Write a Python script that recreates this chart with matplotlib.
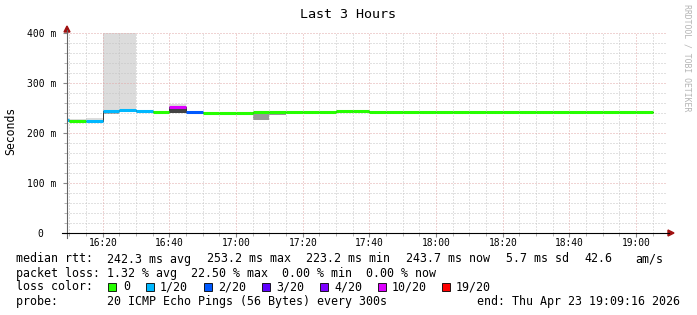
import numpy as np
import matplotlib
matplotlib.use("Agg")
import matplotlib.pyplot as plt
from matplotlib.lines import Line2D
from matplotlib.patches import Polygon, Rectangle

W, H = 697, 315
MONO = "DejaVu Sans Mono"

# 5-minute steps, start minute after 16:00
step_start = [5, 10, 15, 20, 25, 30, 35, 40, 45, 50, 55, 60, 65, 70, 75, 80, 85,
              90, 95, 100, 105, 110, 115, 120, 125, 130, 135, 140, 145, 150, 155,
              160, 165, 170, 175, 180]
median_ms = [227.0, 225.0, 223.2, 244.0, 246.5, 245.0, 243.0, 252.5, 243.0, 239.3,
             239.3, 239.3, 241.6, 241.6, 241.6, 241.6, 241.6, 244.0, 243.5, 242.0,
             242.0, 242.0, 242.0, 242.0, 242.0, 242.0, 242.0, 242.0, 242.0, 242.0,
             242.0, 242.0, 242.0, 242.0, 242.0, 242.0]
loss_pings = [1, 0, 1, 1, 1, 1, 0, 10, 2, 0, 0, 0, 0, 0, 0, 0, 0, 0, 0, 0,
              0, 0, 0, 0, 0, 0, 0, 0, 0, 0, 0, 0, 0, 0, 0, 0]

# smoke bands: (step start, low ms, high ms, shade)
smoke = [(5, 227, 231, "light"), (10, 225, 229, "light"), (15, 223, 230, "light"),
         (20, 244, 420, "light"), (20, 239, 244, "mid"), (25, 247, 420, "light"),
         (40, 253, 258, "light"), (40, 241, 251, "dark"), (45, 240, 241.5, "dark"),
         (65, 226, 240, "mid"), (70, 236, 240, "mid")]
shade_col = {"light": "#dcdcdc", "mid": "#999999", "dark": "#444444"}

loss_levels = [0, 1, 2, 3, 4, 10, 19]
loss_labels = ["0", "1/20", "2/20", "3/20", "4/20", "10/20", "19/20"]
loss_colors = ["#26ff00", "#00b8ff", "#0059ff", "#5e00ff", "#7e00ff", "#dd00ff", "#ff0000"]

xticks = [20, 40, 60, 80, 100, 120, 140, 160, 180]
xlabels = ["16:20", "16:40", "17:00", "17:20", "17:40", "18:00", "18:20", "18:40", "19:00"]
yticks = [0, 100, 200, 300, 400]
ylabels = ["0  ", "100 m", "200 m", "300 m", "400 m"]


def loss_color(n):
    c = loss_colors[0]
    for lv, col in zip(loss_levels, loss_colors):
        if n >= lv:
            c = col
    return c


fig = plt.figure(figsize=(W / 100, H / 100), dpi=100)
ax = fig.add_axes([67 / W, 82 / H, 600 / W, 200 / H])
ax.set_xlim(9.27, 189.27)
ax.set_ylim(0, 400)

for s, lo, hi, sh in smoke:
    ax.bar(s, hi - lo, bottom=lo, width=5, align="edge", color=shade_col[sh],
           linewidth=0, zorder=1)

# grid
dot = (0, (1, 2))
for m in np.arange(10, 190, 5):
    if m % 20 == 0:
        continue
    ax.axvline(m, color="#c4c4c4", lw=0.72, ls=dot, zorder=2)
for v in np.arange(20, 400, 20):
    if v % 100 == 0:
        continue
    ax.axhline(v, color="#c4c4c4", lw=0.72, ls=dot, zorder=2)
for m in xticks:
    ax.axvline(m, color="#e0a8a8", lw=0.72, ls=dot, zorder=2)
for v in [100, 200, 300, 400]:
    ax.axhline(v, color="#e0a8a8", lw=0.72, ls=dot, zorder=2)

# thin step connector, then coloured medians
edges = step_start + [step_start[-1] + 5]
ax.step(edges, median_ms + [median_ms[-1]], where="post", color="#333333", lw=0.7, zorder=3)
for s, v, n in zip(step_start, median_ms, loss_pings):
    ax.plot([s, s + 5], [v, v], color=loss_color(n), lw=2.2, solid_capstyle="butt", zorder=4)

for sp in ax.spines.values():
    sp.set_visible(False)
ax.set_xticks(xticks, xlabels, fontfamily=MONO, fontsize=6.9)
ax.set_yticks(yticks, ylabels, fontfamily=MONO, fontsize=7)
ax.set_xticks(np.arange(10, 190, 5), minor=True)
ax.set_yticks(np.arange(0, 400, 20), minor=True)
ax.tick_params(axis="x", which="major", length=3, color="#888888", pad=0.8)
ax.tick_params(axis="x", which="minor", length=2, color="#aaaaaa")
ax.tick_params(axis="y", which="major", length=3, color="#888888", pad=5)
ax.tick_params(axis="y", which="minor", length=2, color="#aaaaaa")


def fx(x):
    return x / W


def fy(y):
    return 1 - y / H


# axis lines and arrows
fig.add_artist(Line2D([fx(67), fx(67)], [fy(238), fy(30)], color="#666666", lw=0.8))
fig.add_artist(Line2D([fx(62), fx(669)], [fy(233), fy(233)], color="#000000", lw=0.8))
fig.add_artist(Polygon([[fx(64), fy(32)], [fx(70), fy(32)], [fx(67), fy(26)]],
                       closed=True, color="#a01010"))
fig.add_artist(Polygon([[fx(668), fy(230)], [fx(668), fy(236)], [fx(674), fy(233)]],
                       closed=True, color="#a01010"))

fig.text(fx(348), fy(14), "Last 3 Hours", family=MONO, fontsize=9.6, ha="center", va="center")
fig.text(fx(11), fy(131), "Seconds", family=MONO, fontsize=8.3, rotation=90,
         ha="center", va="center")
fig.text(fx(687), fy(4), "RRDTOOL / TOBI OETIKER", family=MONO, fontsize=5.9,
         rotation=270, ha="center", va="top", color="#b4b4b4")

fs = 8.4
rows = [
    (259, [(16, "median rtt:"), (107, "242.3 ms avg"), (207, "253.2 ms max"),
           (306.5, "223.2 ms min"), (406.5, "243.7 ms now"), (506.5, "5.7 ms sd"),
           (584, "42.6"), (635.5, "am/s")]),
    (273, [(16, "packet loss: 1.32 % avg  22.50 % max  0.00 % min  0.00 % now")]),
    (287, [(16, "loss color:")]),
    (301, [(16, "probe:       20 ICMP Echo Pings (56 Bytes) every 300s")]),
]
for y, items in rows:
    for x, t in items:
        fig.text(fx(x), fy(y), t, family=MONO, fontsize=fs, ha="left", va="center")
fig.text(fx(680), fy(301), "end: Thu Apr 23 19:09:16 2026", family=MONO, fontsize=fs,
         ha="right", va="center")

sq_x = [108, 146, 203.6, 262, 320, 378, 442]
lab_x = [123.6, 160, 217.8, 276, 334, 392, 456]
for sx, lx, col, lab in zip(sq_x, lab_x, loss_colors, loss_labels):
    fig.add_artist(Rectangle((fx(sx), fy(291)), 8 / W, 8 / H, facecolor=col,
                             edgecolor="black", lw=0.6))
    fig.text(fx(lx), fy(287), lab, family=MONO, fontsize=fs, ha="left", va="center")

fig.savefig("out.png", dpi=100, facecolor="white")
